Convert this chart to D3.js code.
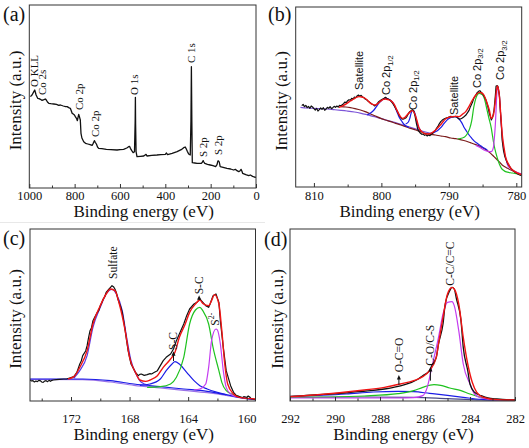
<!DOCTYPE html>
<html><head><meta charset="utf-8">
<script src="https://cdn.jsdelivr.net/npm/d3@7"></script>
<style>body{margin:0;background:#fff}svg{display:block}</style>
</head><body>
<svg id="fig" width="529" height="448"></svg>
<script>
// ---------------- DATA ----------------
// (a) survey spectrum: [binding energy eV, intensity a.u.]
const aSpectrum = [[995,274],[988,279],[980,289],[976,294],[970,279],[963,269],[957,268],[951,266],[945,263],[939,264],[933,266],[929,267],[925,264],[920,258],[914,254],[905,253],[892,252],[880,251],[870,248],[863,249],[850,246],[840,244],[833,244],[826,241],[819,239],[815,232],[811,224],[806,222],[801,219],[797,214],[792,209],[788,202],[785,212],[782,221],[779,214],[775,204],[772,164],[768,150],[760,139],[752,134],[742,132],[732,130],[723,128],[718,134],[713,142],[709,137],[704,132],[699,123],[694,119],[680,118],[660,116],[640,115],[613,114],[600,115],[584,116],[570,120],[562,124],[558,125],[554,119],[548,112],[542,106],[536,109],[533,200],[532,272],[531,190],[529,109],[525,94],[510,95],[495,96],[485,101],[481,96],[460,98],[437,99],[420,100],[400,101],[395,105],[390,100],[370,104],[348,109],[330,115],[319,121],[312,123],[309,119],[303,110],[297,102],[290,99],[287,200],[285,364],[283,200],[281,76],[270,75],[260,74],[241,74],[236,78],[233,82],[230,78],[226,74],[214,71],[202,69],[190,67],[178,64],[172,70],[168,81],[165,81],[162,78],[158,64],[145,62],[128,59],[112,57],[99,54],[91,56],[84,52],[76,49],[70,52],[66,56],[62,50],[59,44],[45,40],[32,37],[25,39],[15,35],[8,33],[0,32]];
const aTicks = [1000,800,600,400,200,0];
const aMinor = [900,700,500,300,100];
const aLabels = [["O KLL",979,303],["Co 2s",940,279],["Co 2p",777,234],["Co 2p",706,153],["O 1s",534,279],["C 1s",283,375],["S 2p",230,93],["S 2p",164,99]];

// (b) Co 2p
const bSpectrum = [[811.8,244],[811.6,248],[811.4,241],[811.2,245],[811.0,238],[810.8,242],[810.6,236],[810.4,243],[810.2,240],[810.0,235],[809.8,231],[809.6,236],[809.4,228],[809.2,232],[809.0,237],[808.8,233],[808.6,238],[808.4,230],[808.2,234],[808.0,239],[807.8,236],[807.6,241],[807.4,235],[807.2,238],[807.0,242],[806.8,239],[806.6,243],[806.4,240],[806.2,245],[806.0,243],[805.8,247],[805.6,250],[805.4,255],[805.2,253],[805.0,259],[804.8,262],[804.6,260],[804.4,266],[804.2,264],[804.0,270],[803.8,268],[803.6,273],[803.4,276],[803.2,272],[803.0,275],[802.8,270],[802.6,268],[802.4,264],[802.2,262],[802.0,258],[801.8,255],[801.6,252],[801.4,249],[801.2,247],[801.0,243],[800.8,246],[800.6,250],[800.4,256],[800.2,259],[800.0,262],[799.8,264],[799.6,266],[799.4,269],[799.2,266],[799.0,264],[798.8,262],[798.6,258],[798.4,253],[798.2,247],[798.0,240],[797.8,233],[797.6,226],[797.4,216],[797.2,210],[797.0,205],[796.8,203],[796.6,205],[796.4,207],[796.2,212],[796.0,220],[795.8,226],[795.6,229],[795.4,232],[795.2,228],[795.0,212],[794.8,190],[794.6,173],[794.4,166],[794.2,161],[794.0,158],[793.8,159],[793.6,155],[793.4,157],[793.2,153],[793.0,156],[792.8,154],[792.6,158],[792.4,161],[792.2,166],[792.0,170],[791.8,177],[791.6,183],[791.4,190],[791.2,196],[791.0,200],[790.8,203],[790.5,206],[790.2,208],[790.0,210],[789.7,212],[789.4,210],[789.0,212],[788.7,208],[788.4,203],[788.2,205],[788.0,207],[787.8,210],[787.5,215],[787.3,221],[787.0,230],[786.8,241],[786.5,254],[786.3,266],[786.0,276],[785.8,283],[785.6,287],[785.4,289],[785.2,284],[785.0,279],[784.8,273],[784.5,261],[784.2,240],[784.0,221],[783.8,208],[783.7,201],[783.5,210],[783.3,231],[783.1,275],[783.0,303],[782.8,304],[782.7,300],[782.5,275],[782.4,241],[782.2,180],[782.1,141],[781.9,110],[781.7,91],[781.5,80],[781.3,71],[781.0,62],[780.8,56],[780.5,50],[780.3,46],[780.0,42],[779.8,39],[779.5,36],[779.2,34]];
const bEnvelope = [[806.3,239],[805.6,245],[805.1,251],[804.6,258],[804.1,264],[803.7,269],[803.3,271],[802.9,270],[802.6,268],[802.1,261],[801.6,251],[801.2,247],[800.9,246],[800.5,251],[800.1,258],[799.7,263],[799.4,264],[799.0,262],[798.6,259],[798.1,248],[797.6,226],[797.2,212],[796.9,206],[796.5,209],[796.2,216],[795.8,224],[795.4,229],[795.1,222],[794.9,211],[794.6,190],[794.4,176],[794.0,166],[793.7,161],[793.2,159],[792.7,161],[792.2,167],[791.7,176],[791.1,190],[790.5,204],[790.0,209],[789.5,211],[789.0,212],[788.5,211],[788.0,218],[787.5,226],[787.0,242],[786.5,261],[786.0,276],[785.5,284],[785.1,282],[784.8,276],[784.4,256],[784.0,231],[783.7,206],[783.4,215],[783.2,241],[783.0,280],[782.8,303],[782.6,288],[782.5,271],[782.3,215],[782.1,161],[781.8,115],[781.6,91],[781.2,70],[780.8,56],[780.2,46],[779.5,39],[779.2,37]];
const bBackground = [[806.0,241],[805.3,240],[804.6,238],[803.9,235],[803.1,231],[802.4,226],[801.6,219],[800.9,213],[800.1,206],[799.4,201],[798.6,196],[797.9,191],[797.1,186],[796.4,181],[795.7,176],[794.9,171],[794.2,166],[793.5,161],[792.7,158],[792.0,156],[791.2,153],[790.5,151],[789.7,147],[789.0,145],[788.3,142],[787.5,138],[786.8,133],[786.0,127],[785.3,121],[784.5,112],[783.8,101],[783.3,91],[782.8,81],[782.4,73],[782.1,66],[781.7,61],[781.3,56],[780.8,51],[780.3,46],[779.8,42],[779.2,38]];
const bBaseline = [[812.0,239],[811.0,237],[810.0,236],[809.0,235],[808.0,234],[807.0,232],[806.0,230],[805.1,228],[804.0,225],[803.0,221],[802.0,216],[801.0,211],[800.1,206],[799.0,199],[797.6,191],[796.4,183],[795.2,176],[794.0,168],[792.7,161]];
const bCo2p12a = [[802.1,216],[801.6,222],[801.1,231],[800.7,242],[800.4,251],[800.0,259],[799.7,263],[799.3,266],[799.0,264],[798.7,261],[798.3,253],[798.0,241],[797.7,226],[797.4,211],[797.0,198],[796.7,189],[796.3,183],[795.9,179]];
const bCo2p12b = [[796.4,189],[796.0,195],[795.8,205],[795.6,221],[795.4,230],[795.2,228],[795.0,219],[794.8,200],[794.7,189],[794.4,176],[794.2,171]];
const bSatellite = [[792.7,161],[792.2,164],[791.7,169],[791.2,178],[790.7,191],[790.2,202],[789.7,209],[789.1,211],[788.5,204],[788.1,193],[787.8,181],[787.4,168],[787.0,156],[786.6,146],[786.3,139],[785.8,131],[785.3,124],[784.8,117],[784.3,111]];
const bCo2p32a = [[788.7,144],[788.0,147],[787.6,151],[787.2,162],[786.9,176],[786.6,200],[786.3,240],[786.0,266],[785.7,279],[785.5,281],[785.2,279],[785.0,276],[784.7,263],[784.5,246],[784.1,210],[783.7,176],[783.5,150],[783.3,126],[783.0,100],[782.8,86],[782.5,68],[782.2,56],[781.9,50],[781.6,46],[780.6,42],[779.5,39],[779.2,38]];
const bCo2p32b = [[786.0,125],[785.3,118],[784.8,111],[784.2,107],[783.7,106],[783.4,118],[783.3,136],[783.1,190],[783.0,231],[782.9,275],[782.8,303],[782.7,295],[782.5,271],[782.35,225],[782.2,181],[782.0,135],[781.8,106],[781.5,82],[781.3,66],[780.9,56],[780.6,51],[780.0,45],[779.5,41],[779.2,40]];
const bTicks = [810,800,790,780];
const bMinor = [805,795,785];
const bLabels = [["Satellite","",803.2,291],["Co 2p","1/2",799.2,276],["Co 2p","1/2",795.3,231],["Satellite","",789.2,216],["Co 2p","3/2",785.8,297],["Co 2p","3/2",782.3,321]];

// (c) S 2p
const cSpectrum = [[174.8,63],[174.7,60],[174.6,61],[174.5,57],[174.4,60],[174.3,58],[174.2,62],[174.1,61],[174.0,57],[173.9,56],[173.8,60],[173.7,61],[173.6,58],[173.5,62],[173.4,59],[173.3,62],[173.2,63],[173.0,64],[172.8,65],[172.5,66],[172.3,66],[172.1,69],[171.8,73],[171.6,86],[171.4,111],[171.3,120],[171.2,136],[171.0,150],[170.9,166],[170.8,190],[170.7,211],[170.6,220],[170.5,241],[170.4,250],[170.2,266],[170.1,272],[170.0,286],[169.9,295],[169.8,306],[169.7,312],[169.6,326],[169.4,336],[169.3,341],[169.2,346],[169.1,343],[169.0,336],[168.9,325],[168.8,306],[168.6,282],[168.5,266],[168.4,240],[168.3,211],[168.2,180],[168.1,151],[167.9,111],[167.6,86],[167.4,76],[167.3,80],[167.2,81],[167.0,77],[166.8,79],[166.6,82],[166.5,81],[166.3,86],[166.1,91],[165.9,106],[165.7,121],[165.5,131],[165.2,141],[165.0,156],[164.8,181],[164.6,201],[164.3,231],[164.1,256],[163.9,276],[163.6,291],[163.4,296],[163.2,306],[163.1,301],[162.8,286],[162.6,281],[162.5,291],[162.3,316],[162.1,321],[161.9,296],[161.8,241],[161.6,161],[161.4,91],[161.1,46],[160.9,26],[160.7,16],[160.5,13],[160.3,10],[160.2,13],[160.0,11],[159.9,15],[159.8,12],[159.7,7],[159.6,6],[159.4,4]];
const cEnvelope = [[172.2,66],[171.8,73],[171.4,101],[170.9,151],[170.5,231],[170.0,286],[169.6,321],[169.3,336],[169.0,331],[168.7,291],[168.3,211],[168.0,131],[167.6,86],[167.3,63],[166.9,59],[166.6,63],[166.1,76],[165.7,101],[165.2,126],[164.9,146],[164.6,191],[164.2,231],[163.9,266],[163.5,291],[163.2,303],[163.0,293],[162.6,286],[162.4,301],[162.2,319],[161.9,291],[161.7,211],[161.5,111],[161.3,51],[160.9,21],[160.5,11],[159.4,6]];
const cBackground1 = [[174.8,66],[171.2,66],[169.3,61],[167.7,51],[165.9,43],[164.3,36],[162.7,29],[161.4,19],[160.5,11],[159.4,4]];
const cBackground2 = [[174.8,65],[171.2,64],[169.3,57],[167.7,47],[165.9,39],[164.3,32],[162.7,25],[161.4,17],[160.5,10],[159.4,4]];
const cSulfate = [[171.8,69],[171.4,91],[170.9,136],[170.5,221],[170.0,281],[169.6,321],[169.2,335],[168.9,321],[168.5,271],[168.2,191],[167.9,121],[167.5,76],[167.2,56],[166.7,47]];
const cSC1 = [[167.3,47],[166.6,51],[165.9,66],[165.5,91],[165.1,111],[164.9,118],[164.6,111],[164.1,86],[163.6,61],[163.2,46],[162.7,36],[162.0,26],[161.4,19]];
const cSC2 = [[166.8,41],[165.9,43],[165.2,51],[164.8,71],[164.3,131],[163.9,231],[163.5,273],[163.2,281],[163.0,271],[162.6,231],[162.3,161],[161.9,91],[161.7,56],[161.4,31],[160.9,19],[160.5,13]];
const cS2 = [[163.6,33],[163.2,36],[162.8,51],[162.6,101],[162.4,181],[162.1,216],[162.0,213],[161.8,171],[161.6,91],[161.4,41],[161.1,21],[160.7,13]];
const cTicks = [172,168,164,160];
const cMinor = [174,170,166,162];
const cLabels = [["Sulfate","",169.1,366],["S-C","",165.0,153],["S-C","",163.25,320],["S","2-",162.15,226]];
const cArrows = [[165.0,120,149],[163.25,304,317]];

// (d) C 1s
const dSpectrum = [[292.0,14],[291.4,16],[290.8,19],[290.2,21],[289.6,24],[289.0,28],[288.4,31],[287.8,36],[287.4,41],[286.9,49],[286.6,56],[286.3,66],[286.1,76],[285.8,91],[285.7,106],[285.5,131],[285.4,171],[285.2,231],[285.1,291],[284.9,331],[284.8,341],[284.7,336],[284.6,306],[284.4,241],[284.3,161],[284.1,91],[284.0,51],[283.8,26],[283.5,16],[283.2,9],[282.8,6],[282.0,3]];
const dEnvelope = [[292.0,13],[290.9,18],[289.9,24],[288.7,33],[287.8,41],[287.1,51],[286.5,61],[286.1,73],[285.8,91],[285.5,131],[285.4,171],[285.2,251],[285.0,321],[284.8,341],[284.7,336],[284.5,291],[284.3,191],[284.1,111],[283.9,56],[283.7,26],[283.4,11],[282.8,4],[282.0,3]];
const dOCO = [[292.0,13],[289.5,21],[288.3,27],[287.2,29],[286.5,28],[285.8,23],[285.0,17],[284.3,11],[283.5,5],[282.0,3]];
const dBackground = [[292.0,11],[288.7,12],[286.5,11],[285.0,7],[283.5,3],[282.0,1]];
const dCOCS = [[292.0,11],[290.2,12],[288.7,15],[287.2,22],[286.5,31],[286.1,41],[285.6,49],[285.3,47],[284.9,39],[284.4,31],[284.0,21],[283.5,11],[282.8,4],[282.0,3]];
const dCC = [[292.0,9],[287.2,9],[286.5,10],[286.1,16],[285.9,41],[285.7,101],[285.4,191],[285.2,261],[285.0,296],[284.8,298],[284.7,286],[284.5,211],[284.3,111],[284.0,51],[283.8,21],[283.5,9],[282.8,3],[282.0,3]];
const dTicks = [292,290,288,286,284,282];
const dMinor = [291,289,287,285,283];
const dLabels = [["O-C=O","",287.16,86],["C-O/C-S","",285.76,106],["C-C/C=C","",284.87,346]];
const dArrows = [[287.16,49,78],[285.76,61,102]];

// ---------------- DRAWING ----------------
const SERIF = "'Liberation Serif','Times New Roman',serif";
const SANS = "'Liberation Sans',Arial,sans-serif";
const svg = d3.select("#fig");
const defs = svg.append("defs");
svg.append("line").attr("x1",0).attr("x2",265).attr("y1",222.5).attr("y2",222.5).attr("stroke","#e8e8e8");

const C = {black:"#111", red:"#f01414", green:"#1fc21f", blue:"#1c1ce6", mag:"#c43cf0", purple:"#7d55d8", brown:"#7b1c1c", violet:"#5a3ce6", lav:"#9a72e8", navy:"#4a4a86"};

function panel(p) {
  const x = d3.scaleLinear().domain(p.xd).range([p.l, p.r]);
  const y = d3.scaleLinear().domain(p.yd).range([p.b, p.t]);
  const g = svg.append("g");
  const cid = "clip-" + p.id;
  defs.append("clipPath").attr("id", cid).append("rect")
    .attr("x", p.l).attr("y", p.t).attr("width", p.r - p.l).attr("height", p.b - p.t);
  const plot = g.append("g").attr("clip-path", `url(#${cid})`);
  p.series.forEach(s => {
    const line = d3.line().x(d => x(d[0])).y(d => y(d[1])).curve(s.curve || d3.curveLinear);
    plot.append("path").datum(s.data).attr("d", line).attr("fill", "none")
      .attr("stroke", s.color).attr("stroke-width", s.w || 1.2).attr("stroke-linejoin", "round");
  });
  // axes
  const ax = g.append("g").attr("transform", `translate(0,${p.b})`)
    .call(d3.axisBottom(x).tickValues(p.ticks).tickSize(-4).tickPadding(p.pad).tickFormat(d3.format("d")));
  ax.select(".domain").remove();
  ax.selectAll("text").attr("font-family", SERIF).attr("font-size", 12.5).attr("fill", "#111");
  ax.selectAll("line").attr("stroke", "#333");
  const mx = g.append("g").attr("transform", `translate(0,${p.b})`)
    .call(d3.axisBottom(x).tickValues(p.minor).tickSize(-2.5).tickFormat(""));
  mx.select(".domain").remove();
  mx.selectAll("line").attr("stroke", "#333");
  g.append("rect").attr("x", p.l).attr("y", p.t).attr("width", p.r - p.l).attr("height", p.b - p.t)
    .attr("fill", "none").attr("stroke", "#333").attr("stroke-width", 1);
  // titles
  g.append("text").attr("x", (p.l + p.r) / 2 + 1).attr("y", p.xtY).attr("text-anchor", "middle")
    .attr("font-family", SERIF).attr("font-size", 17).attr("fill", "#111").text("Binding energy (eV)");
  g.append("text").attr("transform", `translate(${p.ytX},${(p.t + p.b) / 2 + 4}) rotate(-90)`)
    .attr("text-anchor", "middle").attr("font-family", SERIF).attr("font-size", 17).attr("fill", "#111")
    .text("Intensity (a.u.)");
  g.append("text").attr("x", p.letX).attr("y", p.letY).attr("font-family", SERIF).attr("font-size", 20)
    .attr("fill", "#111").text(p.letter);
  // peak labels
  p.labels.forEach(L => {
    const t = g.append("text")
      .attr("transform", `translate(${x(L[L.length - 2]) + p.lfs * 0.32},${y(L[L.length - 1])}) rotate(-90)`)
      .attr("font-family", p.lfont).attr("font-size", p.lfs).attr("fill", "#111");
    t.append("tspan").text(L[0]);
    if (L.length === 4 && L[1]) {
      const sup = L[0] === "S";
      t.append("tspan").attr("font-size", p.lfs * 0.68).attr("dy", sup ? -4.5 : 2.5).text(L[1]);
    }
  });
  (p.arrows || []).forEach(A => {
    const ax0 = x(A[0]), y0 = y(A[1]), y1 = y(A[2]);
    g.append("line").attr("x1", ax0).attr("x2", ax0).attr("y1", y0).attr("y2", y1 + 2)
      .attr("stroke", "#111").attr("stroke-width", 1);
    g.append("path").attr("d", `M${ax0},${y1}L${ax0 - 2},${y1 + 4.5}L${ax0 + 2},${y1 + 4.5}Z`).attr("fill", "#111");
  });
}

const mono = d3.curveMonotoneX;
panel({id:"a", letter:"(a)", letX:3, letY:21, l:29.3, r:256, t:5, b:188, xd:[1000,0], yd:[0,549],
  ticks:aTicks, minor:aMinor, pad:3.5, xtY:217, ytX:21, lfont:SERIF, lfs:11,
  labels:aLabels.map(d => [d[0], "", d[1], d[2]]),
  series:[{data:aSpectrum, color:C.black, w:1.3}]});

panel({id:"b", letter:"(b)", letX:268, letY:21, l:295.7, r:521.7, t:7, b:187, xd:[812.7,779.2], yd:[0,540],
  ticks:bTicks, minor:bMinor, pad:4, xtY:217, ytX:287, lfont:SANS, lfs:11,
  labels:bLabels,
  series:[
    {data:bBaseline, color:C.purple, curve:mono},
    {data:bBackground, color:C.brown, curve:mono},
    {data:bCo2p12a, color:C.blue, curve:mono},
    {data:bCo2p12b, color:C.blue, curve:mono},
    {data:bSatellite, color:C.blue, curve:mono},
    {data:bCo2p32a, color:C.green, curve:mono},
    {data:bCo2p32b, color:C.mag, curve:mono},
    {data:bSpectrum, color:C.black, w:1.2},
    {data:bEnvelope, color:C.red, w:1.4, curve:mono}]});

panel({id:"c", letter:"(c)", letX:3, letY:245, l:30, r:255.5, t:229, b:401, xd:[174.8,159.4], yd:[0,516],
  ticks:cTicks, minor:cMinor, pad:13.5, xtY:440, ytX:21, lfont:SERIF, lfs:11.5,
  labels:cLabels, arrows:cArrows,
  series:[
    {data:cBackground2, color:C.lav, curve:mono},
    {data:cBackground1, color:C.blue, curve:mono},
    {data:cSulfate, color:C.violet, curve:mono},
    {data:cSC1, color:C.blue, curve:mono},
    {data:cSC2, color:C.green, curve:mono},
    {data:cS2, color:C.mag, curve:mono},
    {data:cSpectrum, color:C.black, w:1.2},
    {data:cEnvelope, color:C.red, w:1.4, curve:mono}]});

panel({id:"d", letter:"(d)", letX:264, letY:246, l:290, r:515, t:229, b:401, xd:[292,282], yd:[0,516],
  ticks:dTicks, minor:dMinor, pad:13.5, xtY:440, ytX:283, lfont:SERIF, lfs:11.5,
  labels:dLabels, arrows:dArrows,
  series:[
    {data:dBackground, color:C.navy, curve:mono},
    {data:dOCO, color:C.blue, curve:mono},
    {data:dCOCS, color:C.green, curve:mono},
    {data:dCC, color:C.mag, curve:mono},
    {data:dSpectrum, color:C.black, w:1.3, curve:mono},
    {data:dEnvelope, color:C.red, w:1.4, curve:mono}]});
</script>
</body></html>
